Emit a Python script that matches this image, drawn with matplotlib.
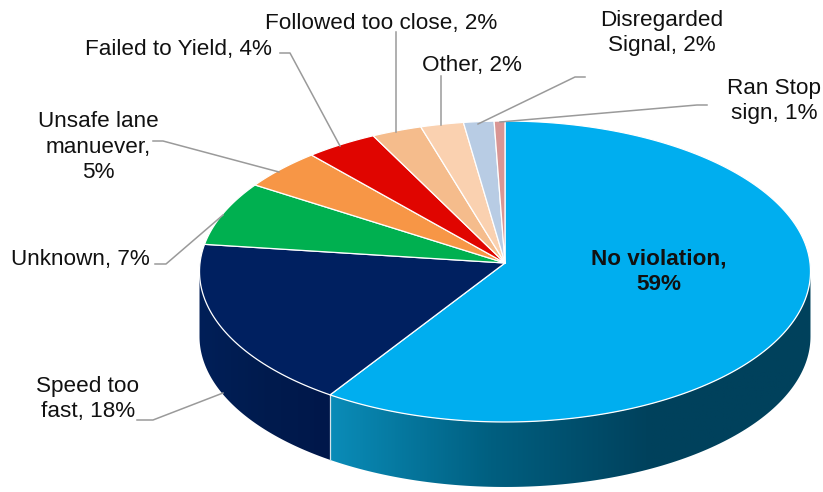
import matplotlib
matplotlib.use("Agg")
import matplotlib.pyplot as plt
from matplotlib.colors import LinearSegmentedColormap
from matplotlib.patches import Polygon
import numpy as np

plt.rcParams['font.family'] = ['Liberation Sans', 'DejaVu Sans']

# shares, clockwise from 12 o'clock
categories = ["No violation", "Speed too fast", "Unknown", "Unsafe lane manuever",
              "Failed to Yield", "Followed too close", "Other",
              "Disregarded Signal", "Ran Stop sign"]
values = [59.2, 17.8, 7, 4.5, 4, 2.8, 2.4, 1.7, 0.6]
colors = ["#00AEEF", "#002060", "#00B050", "#F79646", "#E00500",
          "#F5BC8C", "#FAD1B0", "#B8CCE4", "#D99694"]
labels = ["No violation,\n59%", "Speed too\nfast, 18%", "Unknown, 7%",
          "Unsafe lane\nmanuever,\n5%", "Failed to Yield, 4%",
          "Followed too close, 2%", "Other, 2%",
          "Disregarded\nSignal, 2%", "Ran Stop\nsign, 1%"]

# text centres and leader lines in pixels
label_pos = [(659, 271.5), (88, 399), (80, 260), (98, 147), (178, 49),
             (381, 23), (472, 66), (662, 33), (774, 101)]
leaders = [None,
           [(137, 420), (153, 420), (223, 393)],
           [(155, 264), (166, 264), (223, 215)],
           [(153, 141), (163, 141), (279, 172)],
           [(280, 53), (290, 53), (340, 146)],
           [(396, 32), (396, 132)],
           [(441, 76), (441, 125)],
           [(585, 77), (575, 77), (478, 124)],
           [(707, 105), (697, 105), (500, 122)]]

# pie geometry, the tilt is a small perspective so the front looks bigger
CX, CY = 505, 263
RX, RY = 305, 150
PERSP = 0.0565
DEPTH = 65


def project(theta):
    u, v = np.sin(theta), np.cos(theta)
    w = 1 + PERSP * v
    return CX + RX * u / w, CY - RY * v / w


fig = plt.figure(figsize=(8.23, 4.92), dpi=100)
ax = fig.add_axes([0, 0, 1, 1])
ax.set_xlim(0, 823)
ax.set_ylim(492, 0)
ax.axis("off")

edges = np.cumsum([0] + values) / sum(values) * 2 * np.pi
tangent = np.arccos(-PERSP)
sx, sy = project(edges[1])


def side_patch(t0, t1):
    t = np.linspace(t0, t1, 120)
    x, y = project(t)
    pts = np.vstack([np.column_stack([x, y]),
                     np.column_stack([x, y + DEPTH])[::-1]])
    return Polygon(pts, closed=True, facecolor="none", edgecolor="none", transform=ax.transData)


# sides with a horizontal gradient
sides = [
    (tangent, edges[1], ["#0A8CB8", "#005F80", "#00415C", "#00415C"], (sx, 812)),
    (edges[1], 2 * np.pi - tangent, ["#001F58", "#001B4E", "#00174A"], (198, sx)),
]
for t0, t1, ramp, (x0, x1) in sides:
    patch = side_patch(t0, t1)
    ax.add_patch(patch)
    cmap = LinearSegmentedColormap.from_list("side", ramp)
    grad = np.linspace(0, 1, 256).reshape(1, -1)
    im = ax.imshow(grad, cmap=cmap, extent=(x0, x1, 492, 250), aspect="auto", zorder=1)
    im.set_clip_path(patch)
ax.set_xlim(0, 823)
ax.set_ylim(492, 0)

# thin light seam between the two sides
ax.plot([sx, sx], [sy, sy + DEPTH], color="#D5E3EA", lw=0.9, zorder=2)

# top face
for i in range(len(values)):
    n = max(int((edges[i + 1] - edges[i]) * 60), 6)
    t = np.linspace(edges[i], edges[i + 1], n)
    x, y = project(t)
    pts = np.vstack([[CX, CY], np.column_stack([x, y])])
    ax.add_patch(Polygon(pts, closed=True, facecolor=colors[i], edgecolor="white",
                         lw=0.9, joinstyle="round", zorder=3))

# labels and leaders
for i, lab in enumerate(labels):
    weight = "bold" if i == 0 else "normal"
    ax.text(label_pos[i][0], label_pos[i][1], lab, ha="center", va="center", fontsize=16.2,
            fontweight=weight, color="#111111", linespacing=1.3, zorder=5)
    if leaders[i] is not None:
        lx, ly = zip(*leaders[i])
        ax.plot(lx, ly, color="#9A9A9A", lw=1.1, zorder=4)

fig.savefig("out.png", dpi=100)
